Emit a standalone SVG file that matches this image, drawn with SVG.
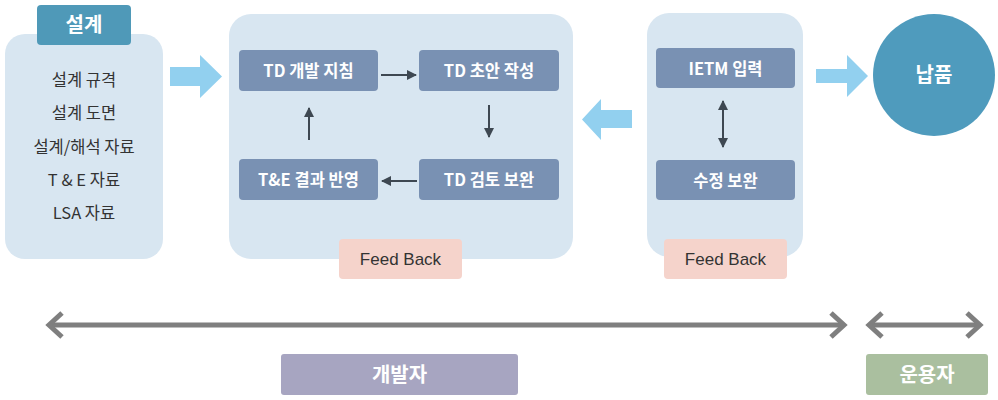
<svg xmlns="http://www.w3.org/2000/svg" width="998" height="400" viewBox="0 0 998 400">
<style>
.panel{fill:#d8e6f1}
.step{fill:#7991b3}
.stxt{font-family:"Noto Sans CJK KR","Noto Sans",sans-serif;font-size:16.5px;font-weight:bold;fill:#ffffff;text-anchor:middle}
.item{font-family:"Noto Sans CJK KR","Noto Sans",sans-serif;font-size:16.5px;fill:#333333;text-anchor:middle}
.fb{fill:#f5d3cb}
.fbt{font-family:"Liberation Sans","Noto Sans",sans-serif;font-size:17px;fill:#333333;text-anchor:middle}
.big{fill:#92d0ef}
.dark{stroke:#3e4852;stroke-width:2;fill:none}
.gray{stroke:#7f7f7f;stroke-width:5;fill:none}
.chev{stroke:#7f7f7f;stroke-width:5;fill:none;stroke-linejoin:miter}
.role{font-family:"Noto Sans CJK KR","Noto Sans",sans-serif;font-size:20px;font-weight:bold;fill:#ffffff;text-anchor:middle}
</style>
<defs>
<marker id="ah" viewBox="0 0 10 10" refX="9" refY="5" markerWidth="5" markerHeight="5" orient="auto-start-reverse" markerUnits="strokeWidth">
<path d="M0,0 L10,5 L0,10 z" fill="#3e4852"/>
</marker>
</defs>
<rect width="998" height="400" fill="#ffffff"/>

<g id="design">
<rect class="panel" x="5" y="34" width="158" height="225" rx="20"/>
<rect x="37" y="5" width="94" height="40" rx="4" fill="#4f99b8"/>
<text class="role" x="84" y="32">설계</text>
<text class="item" x="84" y="86">설계 규격</text>
<text class="item" x="84" y="119">설계 도면</text>
<text class="item" x="84" y="153">설계/해석 자료</text>
<text class="item" x="84" y="186">T &amp; E 자료</text>
<text class="item" x="84" y="219">LSA 자료</text>
</g>

<g id="dev-panel">
<rect class="panel" x="229" y="14" width="344" height="245" rx="22"/>
</g>
<g id="td-guide">
<rect class="step" x="239" y="50" width="139" height="41" rx="4"/>
<text class="stxt" x="308.5" y="76.5">TD 개발 지침</text>
</g>
<g id="td-draft">
<rect class="step" x="419" y="50" width="140" height="41" rx="4"/>
<text class="stxt" x="489" y="76.5">TD 초안 작성</text>
</g>
<g id="te-apply">
<rect class="step" x="239" y="159" width="139" height="41" rx="4"/>
<text class="stxt" x="308.5" y="185.5">T&amp;E 결과 반영</text>
</g>
<g id="td-review">
<rect class="step" x="419" y="159" width="140" height="41" rx="4"/>
<text class="stxt" x="489" y="185.5">TD 검토 보완</text>
</g>
<g id="fb1">
<rect class="fb" x="339" y="239" width="123" height="40" rx="4"/>
<text class="fbt" x="400.5" y="265">Feed Back</text>
</g>

<g id="ietm-panel">
<rect class="panel" x="647" y="13" width="156" height="244" rx="22"/>
</g>
<g id="ietm">
<rect class="step" x="656" y="48" width="139" height="40" rx="4"/>
<text class="stxt" x="725.5" y="74.5">IETM 입력</text>
</g>
<g id="fix">
<rect class="step" x="656" y="160" width="139" height="40" rx="4"/>
<text class="stxt" x="725.5" y="186.5">수정 보완</text>
</g>
<g id="fb2">
<rect class="fb" x="664" y="239" width="123" height="40" rx="4"/>
<text class="fbt" x="725.5" y="265">Feed Back</text>
</g>

<g id="delivery">
<circle cx="934" cy="75" r="61" fill="#4f9bbd"/>
<text class="role" x="934" y="82">납품</text>
</g>

<g id="developer">
<rect x="281" y="354" width="237" height="41" rx="3" fill="#a7a5c1"/>
<text class="role" x="399.5" y="381.5">개발자</text>
</g>
<g id="operator">
<rect x="866" y="354" width="122" height="41" rx="3" fill="#aabf9f"/>
<text class="role" x="927" y="381.5">운용자</text>
</g>

<g id="connectors">
<path class="big" d="M170,67 H200 V55 L222,76.5 L200,98 V86 H170 Z"/>
<path class="big" d="M632,110 H601 V99 L582,119.5 L601,140 V128 H632 Z"/>
<path class="big" d="M816,69 H847 V55 L868,76 L847,97 V83 H816 Z"/>
<line class="dark" x1="381" y1="75" x2="416" y2="75" marker-end="url(#ah)"/>
<line class="dark" x1="489" y1="105" x2="489" y2="137" marker-end="url(#ah)"/>
<line class="dark" x1="417" y1="181" x2="382" y2="181" marker-end="url(#ah)"/>
<line class="dark" x1="309" y1="140" x2="309" y2="108" marker-end="url(#ah)"/>
<line class="dark" x1="723" y1="101" x2="723" y2="147" marker-start="url(#ah)" marker-end="url(#ah)"/>
<line class="gray" x1="50" y1="325" x2="843" y2="325"/>
<path class="chev" d="M62,313 L49,325 L62,337"/>
<path class="chev" d="M831,313 L844,325 L831,337"/>
<line class="gray" x1="870" y1="325" x2="979" y2="325"/>
<path class="chev" d="M882,313 L869,325 L882,337"/>
<path class="chev" d="M967,313 L980,325 L967,337"/>
</g>
</svg>
